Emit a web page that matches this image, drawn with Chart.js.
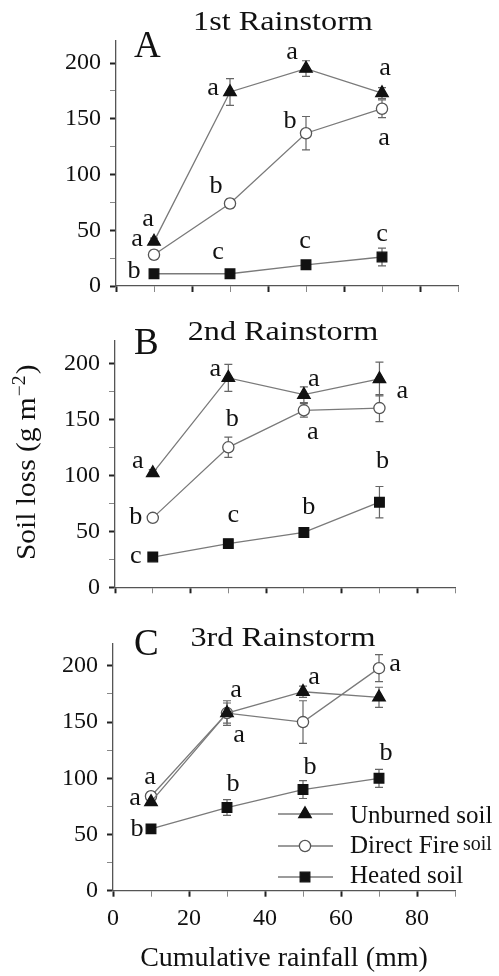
<!DOCTYPE html>
<html>
<head>
<meta charset="utf-8">
<script src="https://cdn.jsdelivr.net/npm/chart.js@4/dist/chart.umd.min.js"></script>
<style>
  html, body { margin: 0; background: #fff; }
  #wrap { position: relative; width: 499px; height: 976px; }
  canvas { position: absolute; left: 0; }
</style>
</head>
<body>
<div id="wrap">
  <canvas id="cA" width="499" height="310" style="top:0;width:499px;height:310px"></canvas>
  <canvas id="cB" width="499" height="310" style="top:310px;width:499px;height:310px"></canvas>
  <canvas id="cC" width="499" height="356" style="top:620px;width:499px;height:356px"></canvas>
</div>
<script>
// ===== Data =====
const RAINFALL = [10, 30, 50, 70];
const SERIES_NAMES = ['Unburned soil', 'Direct Fire', 'Heated soil'];

// 1st rainstorm
const unburnedA = [40, 174, 195, 173];
const unburnedErrA = [3, 12, 7, 5];
const fireA = [28, 74, 137, 159];
const fireErrA = [4, 4, 15, 8];
const heatedA = [11, 11, 19, 26];
const heatedErrA = [2, 2, 3, 8];
const lettersA = [['a', 'a', 'a', 'a'], ['a', 'b', 'b', 'a'], ['b', 'c', 'c', 'c']];

// 2nd rainstorm
const unburnedB = [102, 187, 172, 186];
const unburnedErrB = [3, 12, 7, 15];
const fireB = [62, 125, 158, 160];
const fireErrB = [3, 9, 6, 12];
const heatedB = [27, 39, 49, 76];
const heatedErrB = [2, 3, 4, 14];
const lettersB = [['a', 'a', 'a', 'a'], ['b', 'b', 'a', null], ['c', 'c', 'b', 'b']];

// 3rd rainstorm
const unburnedC = [79, 158, 177, 172];
const unburnedErrC = [3, 9, 5, 9];
const fireC = [84, 158, 150, 198];
const fireErrC = [4, 11, 19, 12];
const heatedC = [55, 74, 90, 100];
const heatedErrC = [3, 7, 8, 8];
const lettersC = [['a', 'a', 'a', null], ['a', 'a', null, 'a'], ['b', 'b', 'b', 'b']];

// ===== Style =====
const FONT = '"Liberation Serif", "Times New Roman", serif';
const INK = '#111';
const LINE = '#7a7a7a';
const AXIS = '#555';

Chart.defaults.font.family = FONT;
Chart.defaults.color = INK;

const MARKERS = [
  { pointStyle: 'triangle', pointRadius: 7.2, pointBackgroundColor: '#111', pointBorderColor: '#111' },
  { pointStyle: 'circle', pointRadius: 5.6, pointBackgroundColor: '#fff', pointBorderColor: '#555' },
  { pointStyle: 'rect', pointRadius: 6.8, pointBackgroundColor: '#111', pointBorderColor: '#111' },
];

// letter offsets from the point (px), one row per series
const OFFSETS_A = [
  [[-6, -21], [-17, -3], [-14, -15], [3, -24]],
  [[-17, -15], [-14, -16], [-16, -11], [2, 31]],
  [[-20, -1], [-12, -20], [-1, -23], [0, -22]],
];
const OFFSETS_B = [
  [[-15, -11], [-13, -8], [10, -14], [23, 13]],
  [[-17, 0], [4, -27], [9, 23], null],
  [[-17, 0], [5, -27], [5, -24], [3, -40]],
];
const OFFSETS_C = [
  [[-16, -3], [9, -22], [11, -13], null],
  [[-1, -18], [12, 23], null, [16, -3]],
  [[-14, 1], [6, -22], [7, -21], [7, -24]],
];

// ===== Helpers =====
function stretchText(ctx, text, x, y, size, align, sx) {
  ctx.save();
  ctx.font = size + 'px ' + FONT;
  ctx.fillStyle = INK;
  ctx.textAlign = align;
  ctx.textBaseline = 'alphabetic';
  ctx.translate(x, y);
  ctx.scale(sx, 1);
  ctx.fillText(text, 0, 0);
  ctx.restore();
}

// error bars, panel titles, significance letters, y title and legend
const decor = {
  id: 'decor',
  beforeDatasetsDraw(chart, args, o) {
    const { ctx, scales: { x, y } } = chart;
    ctx.save();
    ctx.strokeStyle = '#666';
    ctx.lineWidth = 1.2;
    chart.data.datasets.forEach((ds, i) => {
      o.errors[i].forEach((e, j) => {
        const v = ds.data[j].y;
        const px = x.getPixelForValue(RAINFALL[j]);
        const t = y.getPixelForValue(v + e), b = y.getPixelForValue(v - e);
        ctx.beginPath();
        ctx.moveTo(px, t); ctx.lineTo(px, b);
        ctx.moveTo(px - 4, t); ctx.lineTo(px + 4, t);
        ctx.moveTo(px - 4, b); ctx.lineTo(px + 4, b);
        ctx.stroke();
      });
    });
    ctx.restore();
  },
  afterDraw(chart, args, o) {
    const { ctx, scales: { x, y } } = chart;
    stretchText(ctx, o.title, 283, o.titleY, 28, 'center', 1.15);
    stretchText(ctx, o.panel, 134, o.panelY, 37, 'left', 1);

    chart.data.datasets.forEach((ds, i) => {
      o.letters[i].forEach((l, j) => {
        const off = o.offsets[i][j];
        if (!l || !off) return;
        const px = x.getPixelForValue(RAINFALL[j]) + off[0];
        const py = y.getPixelForValue(ds.data[j].y) + off[1];
        stretchText(ctx, l, px, py + 0.23 * 25, 25, 'center', 1.05);
      });
    });

    if (o.yTitle) {
      ctx.save();
      ctx.translate(35, 250);
      ctx.rotate(-Math.PI / 2);
      ctx.scale(1.09, 1);
      ctx.fillStyle = INK;
      ctx.textBaseline = 'alphabetic';
      ctx.textAlign = 'left';
      ctx.font = '27px ' + FONT;
      const main = 'Soil loss (g m';
      ctx.fillText(main, 0, 0);
      let w = ctx.measureText(main).width;
      ctx.font = '18px ' + FONT;
      ctx.fillText('\u22122', w + 1, -10);
      w += ctx.measureText('\u22122').width + 2;
      ctx.font = '27px ' + FONT;
      ctx.fillText(')', w, 0);
      ctx.restore();
    }

    if (o.legend) {
      const rows = [194, 226, 257];
      const base = [203, 233, 263];
      rows.forEach((ry, i) => {
        ctx.save();
        ctx.strokeStyle = LINE;
        ctx.lineWidth = 1.3;
        ctx.beginPath();
        ctx.moveTo(278, ry); ctx.lineTo(333, ry);
        ctx.stroke();
        const m = MARKERS[i];
        ctx.fillStyle = m.pointBackgroundColor;
        ctx.strokeStyle = m.pointBorderColor;
        Chart.helpers.drawPoint(ctx, { pointStyle: m.pointStyle, radius: m.pointRadius, borderWidth: 1.3 }, 305, ry);
        ctx.restore();
        stretchText(ctx, SERIES_NAMES[i], 350, base[i], 25, 'left', 1);
      });
      ctx.save();
      ctx.font = '25px ' + FONT;
      const fw = ctx.measureText(SERIES_NAMES[1]).width;
      ctx.restore();
      stretchText(ctx, 'soil', 350 + fw + 4, 230, 20, 'left', 1);
    }
  },
};

function makePanel(id, geo, series, errors, letters, offsets, extra) {
  const canvas = document.getElementById(id);
  const H = canvas.height;
  const datasets = series.map((vals, i) => ({
    label: SERIES_NAMES[i],
    data: vals.map((v, j) => ({ x: RAINFALL[j], y: v })),
    borderColor: LINE,
    borderWidth: 1.3,
    pointBorderWidth: 1.3,
    pointHoverRadius: MARKERS[i].pointRadius,
    ...MARKERS[i],
  }));

  const gridOpts = (isMajor) => ({
    drawOnChartArea: false,
    drawTicks: true,
    tickLength: 6,
    tickColor: c => isMajor(c.tick.value) ? '#222' : '#888',
    tickWidth: c => isMajor(c.tick.value) ? 2 : 1,
  });

  return new Chart(canvas, {
    type: 'line',
    data: { datasets },
    options: {
      responsive: false,
      animation: false,
      layout: { padding: { top: geo.top, right: 499 - geo.right, left: 0, bottom: 0 } },
      plugins: {
        legend: { display: false },
        tooltip: { enabled: false },
        decor: { errors, letters, offsets, ...extra },
      },
      scales: {
        x: {
          type: 'linear', min: 0, max: 90,
          afterBuildTicks: s => { s.ticks = [0, 10, 20, 30, 40, 50, 60, 70, 80, 90].map(value => ({ value })); },
          afterFit: s => { s.height = H - geo.bottom; },
          ticks: {
            autoSkip: false, maxRotation: 0, padding: 8,
            font: { size: 24 }, color: INK,
            callback: v => (extra.xLabels && v % 20 === 0 && v <= 80) ? v : '',
          },
          grid: gridOpts(v => v % 20 === 0 && v <= 80),
          border: { display: true, color: AXIS, width: 1.3 },
          title: {
            display: !!extra.xLabels, text: 'Cumulative rainfall (mm)',
            font: { size: 28 }, color: INK, padding: { top: 0, bottom: 1 },
          },
        },
        y: {
          type: 'linear', min: 0, max: 220,
          afterBuildTicks: s => { s.ticks = [0, 25, 50, 75, 100, 125, 150, 175, 200].map(value => ({ value })); },
          afterFit: s => { s.width = geo.left; },
          ticks: {
            autoSkip: false, padding: 9,
            font: { size: 24 }, color: INK,
            callback: v => v % 50 === 0 ? v : '',
          },
          grid: gridOpts(v => v % 50 === 0),
          border: { display: true, color: AXIS, width: 1.3 },
        },
      },
    },
    plugins: [decor],
  });
}

makePanel('cA', { top: 40.7, left: 116, right: 458, bottom: 286 },
  [unburnedA, fireA, heatedA], [unburnedErrA, fireErrA, heatedErrA], lettersA, OFFSETS_A,
  { title: '1st Rainstorm', titleY: 29.5, panel: 'A', panelY: 57 });

makePanel('cB', { top: 30.9, left: 115, right: 455, bottom: 277.3 },
  [unburnedB, fireB, heatedB], [unburnedErrB, fireErrB, heatedErrB], lettersB, OFFSETS_B,
  { title: '2nd Rainstorm', titleY: 30, panel: 'B', panelY: 44, yTitle: true });

makePanel('cC', { top: 23.2, left: 113, right: 455, bottom: 270.7 },
  [unburnedC, fireC, heatedC], [unburnedErrC, fireErrC, heatedErrC], lettersC, OFFSETS_C,
  { title: '3rd Rainstorm', titleY: 26, panel: 'C', panelY: 35, legend: true, xLabels: true });
</script>
</body>
</html>
